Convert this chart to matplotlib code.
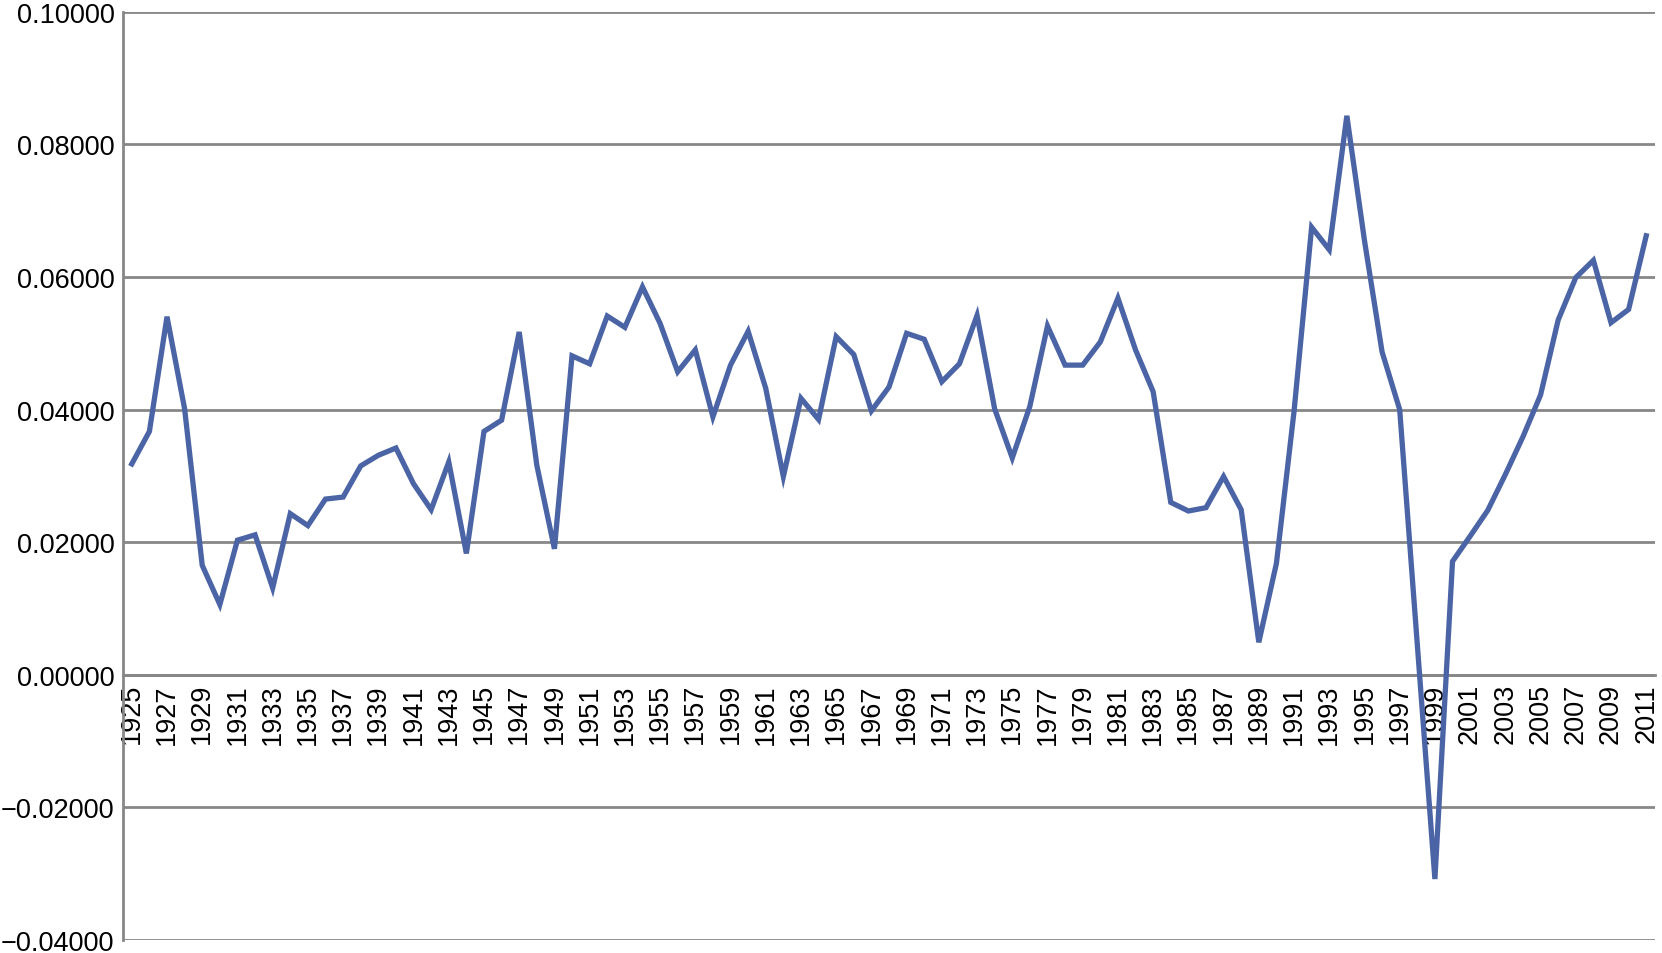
import matplotlib
matplotlib.use("Agg")
import matplotlib.pyplot as plt
from matplotlib.ticker import FuncFormatter

# --- data ---
years = list(range(1925, 2012))
values = [
    0.0318, 0.0367, 0.0540, 0.0401, 0.0165, 0.0106, 0.0203, 0.0211, 0.0131, 0.0243,  # 1925-1934
    0.0225, 0.0265, 0.0268, 0.0315, 0.0331, 0.0342, 0.0288, 0.0249, 0.0321, 0.0183,  # 1935-1944
    0.0367, 0.0384, 0.0517, 0.0316, 0.0190, 0.0481, 0.0469, 0.0541, 0.0524, 0.0585,  # 1945-1954
    0.0530, 0.0457, 0.0490, 0.0389, 0.0467, 0.0518, 0.0432, 0.0299, 0.0417, 0.0385,  # 1955-1964
    0.0510, 0.0483, 0.0398, 0.0434, 0.0515, 0.0506, 0.0442, 0.0469, 0.0542, 0.0401,  # 1965-1974
    0.0327, 0.0405, 0.0526, 0.0467, 0.0467, 0.0502, 0.0568, 0.0490, 0.0427, 0.0260,  # 1975-1984
    0.0247, 0.0252, 0.0299, 0.0249, 0.0049, 0.0168, 0.0397, 0.0675, 0.0641, 0.0843,  # 1985-1994
    0.0655, 0.0487, 0.0400, 0.0046, -0.0308, 0.0171, 0.0209, 0.0248, 0.0302, 0.0359,  # 1995-2004
    0.0422, 0.0535, 0.0599, 0.0625, 0.0531, 0.0551, 0.0662,                          # 2005-2011
]
y_ticks = [-0.04, -0.02, 0.0, 0.02, 0.04, 0.06, 0.08, 0.10]
x_ticks = years[::2]

line_color = "#4b64a6"
grid_color = "#878787"

plt.rcParams["font.family"] = ["Liberation Sans", "DejaVu Sans"]

fig = plt.figure(figsize=(16.62, 9.54), dpi=100)
ax = fig.add_axes([0.074, 0.0136, 0.9218, 0.9731])

ax.plot(years, values, color=line_color, linewidth=3.8, solid_joinstyle="miter", zorder=3)

ax.set_xlim(1924.5, 2011.5)
ax.set_ylim(-0.04, 0.10)

for side in ["top", "right"]:
    ax.spines[side].set_visible(False)
ax.spines["left"].set_color(grid_color)
ax.spines["left"].set_linewidth(2)
# category labels sit on the zero line
ax.spines["bottom"].set_position(("data", 0))
ax.spines["bottom"].set_color(grid_color)
ax.spines["bottom"].set_linewidth(2)

ax.set_yticks(y_ticks)
ax.yaxis.set_major_formatter(FuncFormatter(lambda v, p: f"{v:.5f}".replace("-", "\u2212")))
ax.set_xticks(x_ticks)
ax.set_xticklabels([str(y) for y in x_ticks])

ax.grid(axis="y", color=grid_color, linewidth=2, zorder=1)
ax.set_axisbelow(True)

ax.tick_params(axis="both", length=0, labelsize=19.5, colors="black")
ax.tick_params(axis="x", pad=6, labelrotation=90)
ax.tick_params(axis="y", pad=6)

fig.savefig("out.png", dpi=100)
